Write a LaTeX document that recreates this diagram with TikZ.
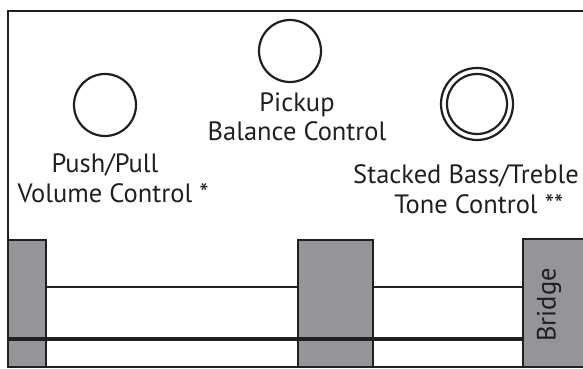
\documentclass[tikz,border=0pt]{standalone}
\usepackage{fontspec}
\setmainfont{PT Sans}
\usepackage{xcolor}
\definecolor{ink}{HTML}{231F20}
\definecolor{block}{HTML}{939598}

\begin{document}
\begin{tikzpicture}[x=1pt,y=1pt,
  line width=2.2pt, draw=ink,
  label/.style={font=\fontsize{26.5}{29.5}\selectfont, text=ink, align=center, inner sep=0pt},
  knob/.style={draw=ink, line width=2.2pt},
  blockbox/.style={draw=ink, fill=block, line width=2.2pt}]
 \useasboundingbox (0,0) rectangle (583,369);
 \clip (0,0) rectangle (583,369);

 % body outline
 \draw (583,358)--(8,358)--(8,2)--(583,2);

 % nut, pickup and bridge
 \path[blockbox] (8,2) rectangle (46,129);
 \path[blockbox] (298,2) rectangle (373,129);
 \path[blockbox] (523,2) rectangle (590,130);
 \node[label, rotate=90] (bridge) at (549,64) {Bridge};

 % strings
 \draw[line width=1.8pt] (46,82)--(298,82);
 \draw[line width=1.8pt] (373,82)--(523,82);
 \draw[line width=4pt] (8,30)--(523,30);

 % controls
 \draw[knob] (105,264) circle (31);
 \draw[knob] (290,318) circle (31);
 \draw[knob] (477,265) circle (36);
 \draw[knob] (477,265) circle (30);

 \node[label] (volume) at (105,191) {Push/Pull\\Volume Control\rlap{ *}};
 \node[label] (balance) at (297,252) {Pickup\\Balance Control};
 \node[label] (tone) at (466,180) {Stacked Bass/Treble\\Tone Control\rlap{ **}};

 %%%%%%%%%%%%%%%%%%%%%%%%%%%%%%%%%%%
\end{tikzpicture}
\end{document}
